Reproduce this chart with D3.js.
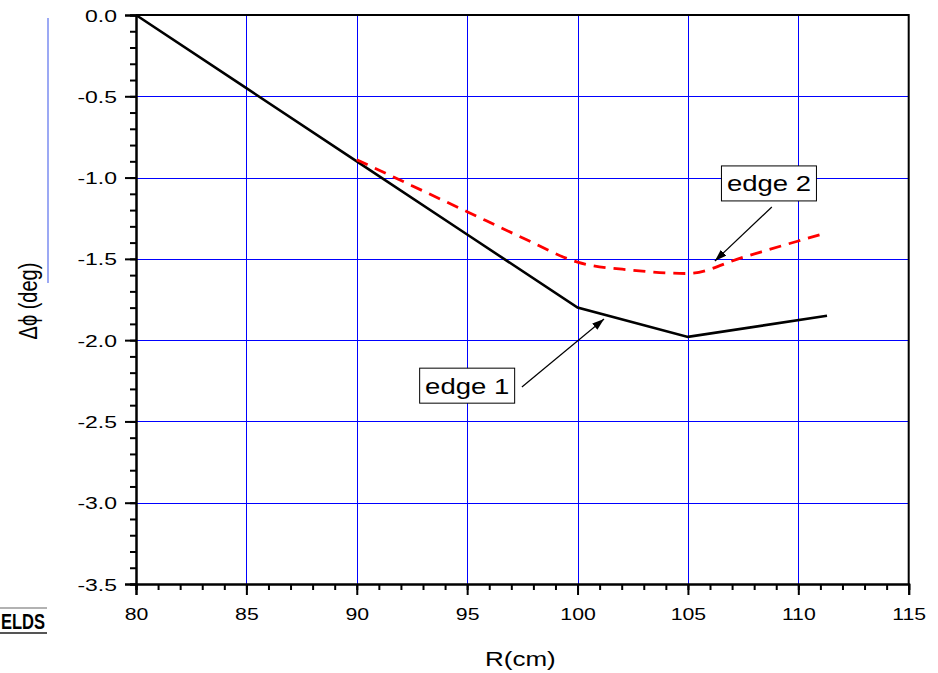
<!DOCTYPE html>
<html>
<head>
<meta charset="utf-8">
<script src="https://cdn.jsdelivr.net/npm/d3@7"></script>
<style>
  html, body { margin: 0; padding: 0; background: #fff; }
  svg { display: block; }
  text { font-family: Arial, "Liberation Sans", sans-serif; }
</style>
</head>
<body>
<svg id="chart" width="938" height="673"></svg>
<script>
// ---- data ----
const edge1R   = [80, 85, 90, 95, 100, 105, 111.3];
const edge1Phi = [0.0, -0.45, -0.9, -1.35, -1.8, -1.98, -1.85];
const edge2R   = [90, 92.5, 95, 97.5, 100, 102.5, 105, 107.5, 110, 111.3];
const edge2Phi = [-0.89, -1.05, -1.21, -1.37, -1.52, -1.57, -1.59, -1.49, -1.39, -1.34];
const xTicks = [80, 85, 90, 95, 100, 105, 110, 115];
const yTicks = [0.0, -0.5, -1.0, -1.5, -2.0, -2.5, -3.0, -3.5];
const xTickLabels = ["80", "85", "90", "95", "100", "105", "110", "115"];
const yTickLabels = ["0.0", "-0.5", "-1.0", "-1.5", "-2.0", "-2.5", "-3.0", "-3.5"];
const annotations = [
  { label: "edge 1", boxR: 95.0, boxPhi: -2.28, fromR: 97.48, fromPhi: -2.288, toR: 101.2, toPhi: -1.87 },
  { label: "edge 2", boxR: 108.67, boxPhi: -1.036, fromR: 108.8, fromPhi: -1.181, toR: 106.22, toPhi: -1.513 }
];
const xTitle = "R(cm)";
const yTitle = "\u0394\u03d5 (deg)";
const cornerText = "ELDS";

(function () {
// ---- layout ----
const svg = d3.select("#chart");
const mL = 136, mR = 908.7, mT = 15, mB = 584;
const x = d3.scaleLinear().domain([80, 115]).range([mL, mR]);
const y = d3.scaleLinear().domain([0, -3.5]).range([mT, mB]);
function stretch(sel, k) {
  sel.each(function() {
    const w = this.getComputedTextLength();
    this.setAttribute("textLength", w * k);
    this.setAttribute("lengthAdjust", "spacingAndGlyphs");
  });
}
const px = v => Math.round(v) + 0.5;

// grid
const grid = svg.append("g").attr("stroke", "#0000ff").attr("stroke-width", 1)
  .attr("shape-rendering", "crispEdges");
grid.selectAll("line.gx").data(xTicks.filter(d => d > 80 && d < 115)).join("line").attr("class", "gx")
  .attr("x1", d => px(x(d))).attr("x2", d => px(x(d))).attr("y1", mT).attr("y2", mB);
grid.selectAll("line.gy").data(yTicks.filter(d => d < 0 && d > -3.5)).join("line").attr("class", "gy")
  .attr("y1", d => px(y(d))).attr("y2", d => px(y(d))).attr("x1", mL).attr("x2", mR);

// axes
const xMinor = d3.range(80, 115.01, 1);
const yMinor = d3.range(0, -3.501, -0.1).map(v => +v.toFixed(2));
const xAxis = svg.append("g").attr("transform", `translate(0,${mB})`)
  .call(d3.axisBottom(x).tickValues(xMinor).tickSize(6).tickFormat(""));
const xAxisMaj = svg.append("g").attr("transform", `translate(0,${mB})`)
  .call(d3.axisBottom(x).tickValues(xTicks).tickSize(11).tickPadding(13)
    .tickFormat((d, i) => xTickLabels[i]));
const yAxis = svg.append("g").attr("transform", `translate(${mL},0)`)
  .call(d3.axisLeft(y).tickValues(yMinor).tickSize(6).tickFormat(""));
const yAxisMaj = svg.append("g").attr("transform", `translate(${mL},0)`)
  .call(d3.axisLeft(y).tickValues(yTicks).tickSize(11).tickPadding(8)
    .tickFormat((d, i) => yTickLabels[i]));
[xAxis, xAxisMaj, yAxis, yAxisMaj].forEach(g => {
  g.select(".domain").attr("stroke", "#000").attr("stroke-width", 2);
  g.selectAll(".tick line").attr("stroke", "#000").attr("stroke-width", 2);
  g.selectAll(".tick text").attr("fill", "#000").attr("font-size", 17)
    .attr("font-family", "Arial, 'Liberation Sans', sans-serif");
});
xAxisMaj.selectAll(".tick text").call(stretch, 1.25);
yAxisMaj.selectAll(".tick text").attr("dy", "0.36em").call(stretch, 1.35);

// frame top and right
svg.append("line").attr("x1", mL).attr("x2", mR).attr("y1", mT).attr("y2", mT)
  .attr("stroke", "#000").attr("stroke-width", 2);
svg.append("line").attr("x1", mR).attr("x2", mR).attr("y1", mT - 1).attr("y2", mB)
  .attr("stroke", "#000").attr("stroke-width", 2);

// series
const line = d3.line().x(d => x(d[0])).y(d => y(d[1]));
const line2 = d3.line().curve(d3.curveMonotoneX).x(d => x(d[0])).y(d => y(d[1]));
svg.append("path").datum(edge1R.map((r, i) => [r, edge1Phi[i]]))
  .attr("d", line).attr("fill", "none").attr("stroke", "#000").attr("stroke-width", 2.6);
svg.append("path").datum(edge2R.map((r, i) => [r, edge2Phi[i]]))
  .attr("d", line2).attr("fill", "none").attr("stroke", "#ff0000").attr("stroke-width", 2.8)
  .attr("stroke-dasharray", "12,8");

// annotations
svg.append("defs").append("marker").attr("id", "arr")
  .attr("viewBox", "0 0 12 8").attr("refX", 12).attr("refY", 4)
  .attr("markerWidth", 12).attr("markerHeight", 8).attr("markerUnits", "userSpaceOnUse")
  .attr("orient", "auto")
  .append("path").attr("d", "M0,0 L12,4 L0,8 Z").attr("fill", "#000");
annotations.forEach(a => {
  svg.append("line").attr("x1", x(a.fromR)).attr("y1", y(a.fromPhi))
    .attr("x2", x(a.toR)).attr("y2", y(a.toPhi))
    .attr("stroke", "#000").attr("stroke-width", 1.2).attr("marker-end", "url(#arr)");
  const cx = x(a.boxR), cy = y(a.boxPhi);
  svg.append("rect").attr("x", cx - 47.5).attr("y", cy - 17.5).attr("width", 95).attr("height", 35)
    .attr("fill", "#fff").attr("stroke", "#000").attr("stroke-width", 1);
  svg.append("text").attr("x", cx).attr("y", cy + 8).attr("text-anchor", "middle")
    .attr("font-size", 22).attr("fill", "#000").text(a.label)
    .call(stretch, 1.25);
});

// titles
svg.append("text").attr("x", (mL + mR) / 2 - 2).attr("y", 666).attr("text-anchor", "middle")
  .attr("font-size", 20).attr("fill", "#000").text(xTitle).call(stretch, 1.3);
svg.append("text").attr("transform", "translate(37,301) rotate(-90) scale(1,1.3)")
  .attr("text-anchor", "middle")
  .attr("font-size", 20).attr("fill", "#000").text(yTitle);

// decorations at left edge
svg.append("line").attr("x1", 48).attr("x2", 48).attr("y1", 18).attr("y2", 283)
  .attr("stroke", "#7b8cf0").attr("stroke-width", 1.5);
svg.append("line").attr("x1", 0).attr("x2", 47).attr("y1", 608).attr("y2", 608)
  .attr("stroke", "#999").attr("stroke-width", 1.5);
svg.append("text").attr("x", 1).attr("y", 629)
  .attr("font-size", 22).attr("font-weight", "bold")
  .attr("font-family", "'Liberation Sans Narrow', 'Arial Narrow', Arial, sans-serif")
  .attr("fill", "#000").text(cornerText)
  .attr("textLength", 44).attr("lengthAdjust", "spacingAndGlyphs");
svg.append("line").attr("x1", 0).attr("x2", 47).attr("y1", 633).attr("y2", 633)
  .attr("stroke", "#555").attr("stroke-width", 2);
})();
</script>
</body>
</html>
